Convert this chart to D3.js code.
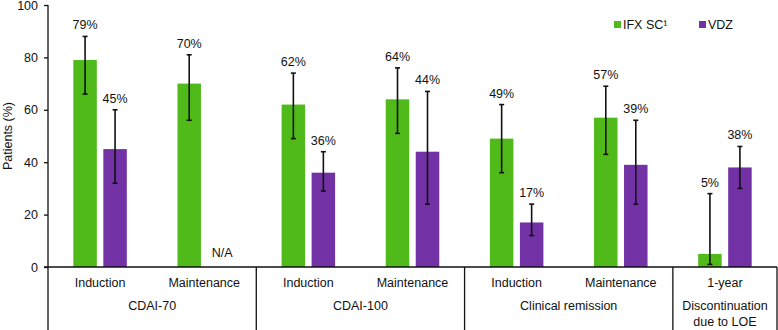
<!DOCTYPE html>
<html>
<head>
<meta charset="utf-8">
<script src="https://cdn.jsdelivr.net/npm/d3@7"></script>
<style>
  html, body { margin: 0; padding: 0; background: #fff; }
  svg { display: block; font-family: "Liberation Sans", Arial, Helvetica, sans-serif; }
</style>
</head>
<body>
<svg id="chart" width="778" height="330"></svg>
<script>
// ---- data ----
const subcategories = ["Induction", "Maintenance", "Induction", "Maintenance", "Induction", "Maintenance", "1-year"];
const groupLabels = [["CDAI-70"], ["CDAI-100"], ["Clinical remission"], ["Discontinuation", "due to LOE"]];
const groupSizes = [2, 2, 2, 1];
const seriesNames = ["IFX SC¹", "VDZ"];
const ifxValues = [79, 70, 62, 64, 49, 57, 5];
const ifxLow    = [66, 56, 49, 51, 36, 43, 1];
const ifxHigh   = [88, 81, 74, 76, 62, 69, 28];
const vdzValues = [45, null, 36, 44, 17, 39, 38];
const vdzLow    = [32, null, 29, 24, 12, 24, 30];
const vdzHigh   = [60, null, 44, 67, 24, 56, 46];
const yTicks = [0, 20, 40, 60, 80, 100];
const naLabel = "N/A";
const yTitle = "Patients (%)";

(function () {
// ---- layout ----
const colors = ["#50BA1A", "#7232A6"];
const fontSize = 12.5;
const svg = d3.select("#chart");
const mLeft = 48, mRight = 777, mTop = 5, mBottom = 267, svgH = 330;

const x = d3.scaleBand().domain(d3.range(subcategories.length)).range([mLeft, mRight]).padding(0);
const y = d3.scaleLinear().domain([0, 100]).range([mBottom, mTop]);
const barW = 23.5;

const rows = [];
subcategories.forEach((c, i) => {
  rows.push({ i, s: 0, v: ifxValues[i], lo: ifxLow[i], hi: ifxHigh[i] });
  rows.push({ i, s: 1, v: vdzValues[i], lo: vdzLow[i], hi: vdzHigh[i] });
});
const cx = d => x(d.i) + x.bandwidth() / 2 + (d.s === 0 ? -15 : 15);

// bars
svg.append("g").selectAll("rect").data(rows.filter(d => d.v != null)).join("rect")
  .attr("x", d => cx(d) - barW / 2)
  .attr("width", barW)
  .attr("y", d => y(d.v))
  .attr("height", d => y(0) - y(d.v))
  .attr("fill", d => colors[d.s]);

// error bars
const eb = svg.append("g").attr("stroke", "#111").attr("stroke-width", 1.6);
rows.filter(d => d.v != null).forEach(d => {
  const c = cx(d);
  eb.append("line").attr("x1", c).attr("x2", c).attr("y1", y(d.lo)).attr("y2", y(d.hi));
  eb.append("line").attr("x1", c - 2.5).attr("x2", c + 2.5).attr("y1", y(d.lo)).attr("y2", y(d.lo));
  eb.append("line").attr("x1", c - 2.5).attr("x2", c + 2.5).attr("y1", y(d.hi)).attr("y2", y(d.hi));
});

// value labels
svg.append("g").selectAll("text").data(rows).join("text")
  .attr("x", d => cx(d) + (d.v == null ? 3 : 0))
  .attr("y", d => d.v == null ? y(0) - 10 : y(d.hi) - 7)
  .attr("text-anchor", "middle")
  .attr("font-size", fontSize)
  .attr("fill", "#111")
  .text(d => d.v == null ? naLabel : d.v + "%");

// y axis
const yAxis = svg.append("g").attr("transform", `translate(${mLeft},0)`)
  .call(d3.axisLeft(y).tickValues(yTicks).tickSize(4).tickPadding(6));
yAxis.select(".domain").remove();
yAxis.selectAll(".tick line").attr("stroke", "#111").attr("stroke-width", 1.3);
yAxis.selectAll(".tick text").attr("font-size", fontSize).attr("fill", "#111")
  .attr("font-family", "Liberation Sans, Arial, sans-serif");
svg.append("line").attr("x1", mLeft).attr("x2", mLeft).attr("y1", y(100)).attr("y2", svgH)
  .attr("stroke", "#111").attr("stroke-width", 1.3);

// x axis line
svg.append("line").attr("x1", mLeft - 4).attr("x2", mRight).attr("y1", y(0)).attr("y2", y(0))
  .attr("stroke", "#111").attr("stroke-width", 1.3);

// group dividers and labels
let start = 0;
const gl = svg.append("g");
groupSizes.forEach((n, gi) => {
  const x0 = x(start), x1 = x(start + n - 1) + x.bandwidth();
  gl.append("line").attr("x1", x1).attr("x2", x1).attr("y1", y(0)).attr("y2", svgH)
    .attr("stroke", "#111").attr("stroke-width", 1.3);
  groupLabels[gi].forEach((t, li) => {
    gl.append("text").attr("x", (x0 + x1) / 2).attr("y", 310 + li * 15.5)
      .attr("text-anchor", "middle").attr("font-size", fontSize).attr("fill", "#111").text(t);
  });
  start += n;
});

// subcategory labels
svg.append("g").selectAll("text").data(subcategories).join("text")
  .attr("x", (d, i) => x(i) + x.bandwidth() / 2)
  .attr("y", 287)
  .attr("text-anchor", "middle")
  .attr("font-size", fontSize)
  .attr("fill", "#111")
  .text(d => d);

// y title
svg.append("text")
  .attr("transform", `translate(12,${(y(0) + y(100)) / 2}) rotate(-90)`)
  .attr("text-anchor", "middle")
  .attr("font-size", fontSize)
  .attr("fill", "#111")
  .text(yTitle);

// legend
const legendX = [614, 699];
seriesNames.forEach((name, i) => {
  svg.append("rect").attr("x", legendX[i]).attr("y", 21).attr("width", 7).attr("height", 7).attr("fill", colors[i]);
  svg.append("text").attr("x", legendX[i] + 9).attr("y", 29).attr("font-size", fontSize).attr("fill", "#111").text(name);
});
})();
</script>
</body>
</html>
